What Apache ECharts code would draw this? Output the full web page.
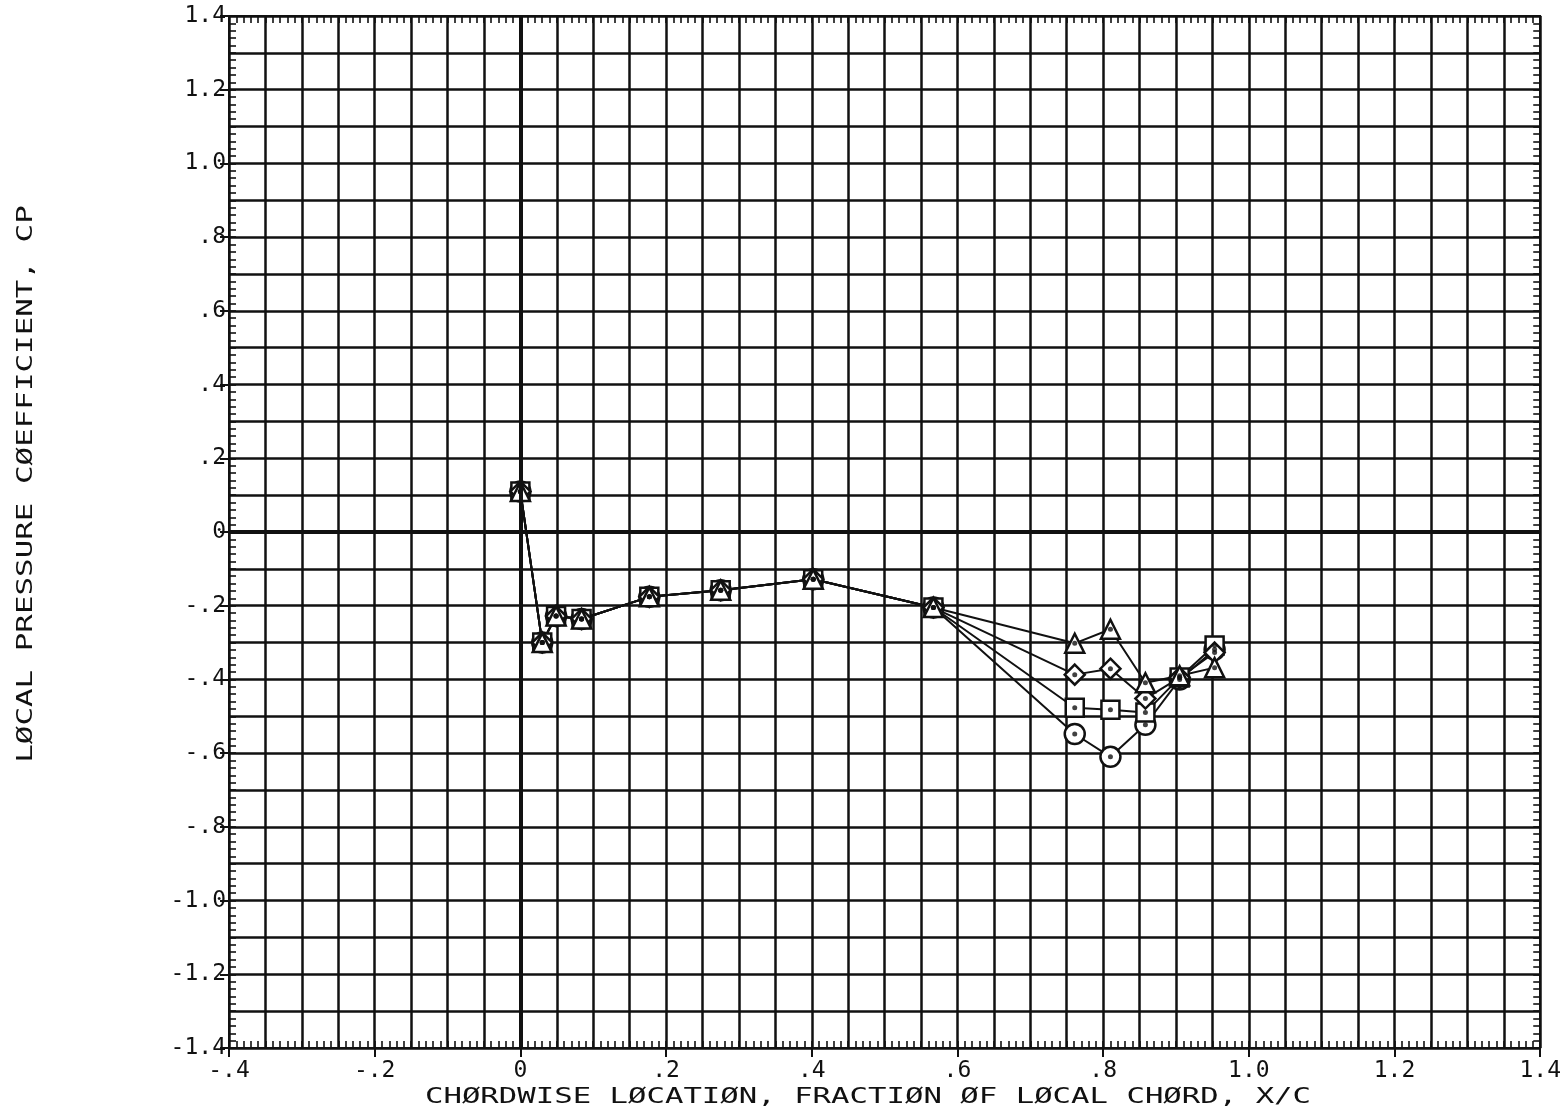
<!DOCTYPE html>
<html>
<head>
<meta charset="utf-8">
<script src="https://cdn.jsdelivr.net/npm/echarts@6/dist/echarts.min.js"></script>
<style>
html,body{margin:0;padding:0;background:#fff;}
#chart{width:1564px;height:1120px;}
</style>
</head>
<body>
<div id="chart"></div>
<script>
// ---- data ----
var xLoc = [0, 0.03, 0.049, 0.084, 0.177, 0.275, 0.402, 0.567, 0.761, 0.81, 0.858, 0.905, 0.953];
var cpCircle   = [0.11, -0.30, -0.228, -0.236, -0.176, -0.158, -0.128, -0.205, -0.548, -0.61, -0.523, -0.40, -0.319];
var cpSquare   = [0.11, -0.30, -0.228, -0.236, -0.176, -0.158, -0.128, -0.205, -0.477, -0.482, -0.49, -0.395, -0.308];
var cpDiamond  = [0.11, -0.30, -0.228, -0.236, -0.176, -0.158, -0.128, -0.205, -0.387, -0.371, -0.452, -0.395, -0.327];
var cpTriangle = [0.11, -0.30, -0.228, -0.236, -0.176, -0.158, -0.128, -0.205, -0.302, -0.264, -0.409, -0.39, -0.368];
var xTickLabels = ['-.4', '-.2', '0', '.2', '.4', '.6', '.8', '1.0', '1.2', '1.4'];
var yTickLabels = ['-1.4', '-1.2', '-1.0', '-.8', '-.6', '-.4', '-.2', '0', '.2', '.4', '.6', '.8', '1.0', '1.2', '1.4'];
var xTitle = 'CHØRDWISE LØCATIØN, FRACTIØN ØF LØCAL CHØRD, X/C';
var yTitle = 'LØCAL PRESSURE CØEFFICIENT, CP';

var FONT = '"DejaVu Sans Mono", "Liberation Mono", monospace';
var INK = '#111';

function pairs(xs, ys) { return xs.map(function (x, i) { return [x, ys[i]]; }); }
function labelFor(list, min, step) {
  return function (v) {
    var idx = Math.round((v - min) / step);
    var back = min + idx * step;
    if (Math.abs(back - v) > 1e-6) return '';
    return list[idx] || '';
  };
}

var XMIN = -0.4, XMAX = 1.4, YMIN = -1.4, YMAX = 1.4;

function plainAxis(extra) {
  var base = {
    type: 'value', axisLine: { show: false, onZero: false }, axisTick: { show: false },
    axisLabel: { show: false }, splitLine: { show: false }
  };
  for (var k in extra) base[k] = extra[k];
  return base;
}
var FRAME = { show: true, onZero: false, lineStyle: { color: INK, width: 2 } };
var MINOR = { show: true, inside: true, length: 7, lineStyle: { color: INK, width: 1.6 } };

var xAxes = [
  plainAxis({ min: XMIN, max: XMAX, interval: 0.2, position: 'bottom',
    axisLine: FRAME,
    axisTick: { show: true, inside: false, length: 9, lineStyle: { color: INK, width: 2 } },
    axisLabel: { show: true, margin: 12, color: INK, fontFamily: FONT, fontSize: 23,
      formatter: labelFor(xTickLabels, XMIN, 0.2) } }),
  plainAxis({ min: XMIN, max: XMAX, interval: 0.05, position: 'bottom',
    splitLine: { show: true, lineStyle: { color: INK, width: 2.5 } } }),
  plainAxis({ min: XMIN, max: XMAX, interval: 0.01, position: 'bottom', axisTick: MINOR }),
  plainAxis({ min: XMIN, max: XMAX, interval: 0.01, position: 'top', axisLine: FRAME, axisTick: MINOR })
];
var yAxes = [
  plainAxis({ min: YMIN, max: YMAX, interval: 0.2, position: 'left',
    axisLine: FRAME,
    axisTick: { show: true, inside: false, length: 9, lineStyle: { color: INK, width: 2 } },
    axisLabel: { show: true, margin: 3, color: INK, fontFamily: FONT, fontSize: 23,
      formatter: labelFor(yTickLabels, YMIN, 0.2) } }),
  plainAxis({ min: YMIN, max: YMAX, interval: 0.1, position: 'left',
    splitLine: { show: true, lineStyle: { color: INK, width: 2.5 } } }),
  plainAxis({ min: YMIN, max: YMAX, interval: 0.02, position: 'left', axisTick: MINOR }),
  plainAxis({ min: YMIN, max: YMAX, interval: 0.02, position: 'right', axisLine: FRAME, axisTick: MINOR })
];

function shapeSeries(name, ys, symbol, size, withZero) {
  var s = {
    name: name, type: 'line', data: pairs(xLoc, ys), symbol: symbol, symbolSize: size,
    showAllSymbol: true, animation: false,
    lineStyle: { color: INK, width: 2 },
    itemStyle: { color: '#fff', borderColor: INK, borderWidth: 2.5 },
    z: 3
  };
  if (withZero) {
    s.markLine = {
      silent: true, symbol: ['none', 'none'], label: { show: false }, animation: false,
      lineStyle: { color: INK, width: 4, type: 'solid' },
      data: [{ xAxis: 0 }, { yAxis: 0 }]
    };
  }
  return s;
}
function dotSeries(name, ys) {
  return {
    name: name + ' dot', type: 'scatter', data: pairs(xLoc, ys), symbol: 'circle', symbolSize: 5,
    itemStyle: { color: INK }, animation: false, z: 4
  };
}

var option = {
  backgroundColor: '#fff',
  animation: false,
  grid: { left: 229, right: 11, top: 16, bottom: 72, containLabel: false },
  xAxis: xAxes,
  yAxis: yAxes,
  series: [
    shapeSeries('circle', cpCircle, 'circle', 20, true), dotSeries('circle', cpCircle),
    shapeSeries('square', cpSquare, 'rect', 18, false), dotSeries('square', cpSquare),
    shapeSeries('diamond', cpDiamond, 'diamond', 20, false), dotSeries('diamond', cpDiamond),
    shapeSeries('triangle', cpTriangle, 'triangle', 19, false), dotSeries('triangle', cpTriangle)
  ],
  graphic: [
    { type: 'text', x: 868, y: 1098, scaleX: 1.46, scaleY: 1, silent: true,
      style: { text: xTitle, fill: INK, font: '21px ' + FONT, align: 'center', verticalAlign: 'middle' } },
    { type: 'text', x: 27, y: 484, rotation: Math.PI / 2, scaleX: 1.47, scaleY: 1, silent: true,
      style: { text: yTitle, fill: INK, font: '21px ' + FONT, align: 'center', verticalAlign: 'middle' } }
  ]
};

var chart = echarts.init(document.getElementById('chart'), null, { renderer: 'canvas' });
chart.setOption(option);
</script>
</body>
</html>
